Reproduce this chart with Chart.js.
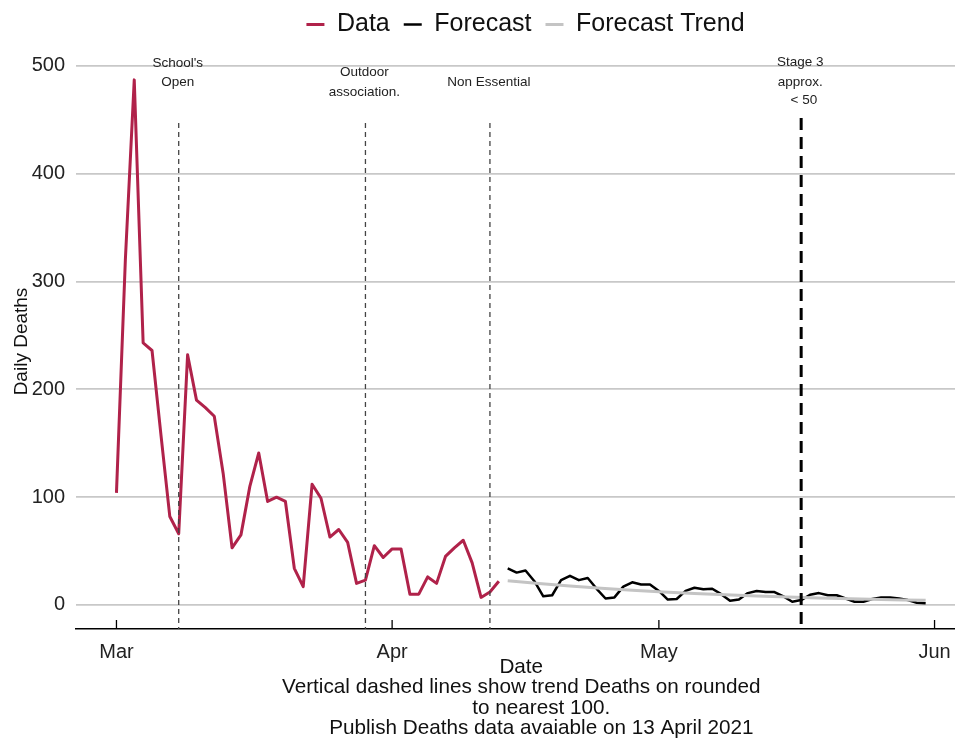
<!DOCTYPE html>
<html>
<head>
<meta charset="utf-8">
<script src="https://cdn.jsdelivr.net/npm/chart.js@4.4.1/dist/chart.umd.min.js"></script>
<style>
  html, body { margin: 0; padding: 0; background: #ffffff; }
  #wrap { width: 955px; height: 740px; }
</style>
</head>
<body>
<div id="wrap"><canvas id="c" width="955" height="740"></canvas></div>
<script>
// ---------------- data ----------------
const originDate = '2021-03-01';
const dataStartDate = '2021-03-01';
const dataValues = [104, 320, 487, 243, 236, 158, 82, 66, 232, 190, 183, 175, 122, 53, 65, 110,
  141, 96, 100, 96, 34, 17, 112, 99, 63, 70, 58, 20, 23, 55, 44,
  52, 52, 10, 10, 26, 20, 45, 53, 60, 39, 7, 12, 22];
const forecastStartDate = '2021-04-14';
const forecastValues = [34, 30, 32, 22, 8, 9, 23, 27, 23, 25, 15, 6, 7, 17, 21, 19, 19,
  13, 5, 5.5, 13, 16, 14.5, 15, 10, 4, 5, 11, 13, 12, 12, 8, 3, 4.5, 9.5, 11, 9, 9, 6, 3, 3,
  5.5, 7, 7, 6, 4.5, 2, 1.5];
const trendDates = ['2021-04-14', '2021-04-21', '2021-04-28', '2021-05-05', '2021-05-12', '2021-05-19', '2021-05-26', '2021-05-31'];
const trendValues = [22.5, 17.5, 13.7, 10.7, 8.4, 6.5, 5.1, 4.3];
const monthTickDates = ['2021-03-01', '2021-04-01', '2021-05-01', '2021-06-01'];
const monthTickLabels = ['Mar', 'Apr', 'May', 'Jun'];
const yTickValues = [0, 100, 200, 300, 400, 500];
const eventDates = ['2021-03-08', '2021-03-29', '2021-04-12', '2021-05-17'];
const eventLabels = [["School's", 'Open'], ['Outdoor', 'association.'], ['Non Essential'], ['Stage 3', 'approx.', '  < 50']];
const seriesNames = ['Data', 'Forecast', 'Forecast Trend'];
const xTitleLines = ['  Date', '  Vertical dashed lines show trend Deaths on rounded', '         to nearest 100.', '         Publish Deaths data avaiable on 13 April 2021'];
const yTitle = 'Daily Deaths';

// ---------------- helpers ----------------
const DAY = 86400000;
function dayOf(s) { return Math.round((Date.parse(s + 'T00:00:00Z') - Date.parse(originDate + 'T00:00:00Z')) / DAY); }
const dataStart = dayOf(dataStartDate);
const fcStart = dayOf(forecastStartDate);
const dataPts = dataValues.map((v, i) => ({ x: dataStart + i, y: v }));
const fcPts = forecastValues.map((v, i) => ({ x: fcStart + i, y: v }));
const trendPts = trendDates.map((d, i) => ({ x: dayOf(d), y: trendValues[i] }));
const monthTickDays = monthTickDates.map(dayOf);
const eventDays = eventDates.map(dayOf);

// ---------------- styles ----------------
const FONT = "'Liberation Sans', Arial, sans-serif";
const eventTextY = [[63, 82], [72, 92], [82], [62, 82, 100]];
const eventLineTop = [123, 123, 123, 118];
const eventStyle = [
  { color: '#444', width: 1.3, dash: [5, 4] },
  { color: '#444', width: 1.3, dash: [5, 4] },
  { color: '#444', width: 1.3, dash: [5, 4] },
  { color: '#000', width: 3, dash: [12, 7] }
];

const decorPlugin = {
  id: 'decor',
  beforeLayout(chart) {
    const lg = chart.legend;
    if (lg && !lg._patched) {
      const f = lg.fit.bind(lg);
      lg.fit = function () { f(); this.height = 54; };
      lg._patched = true;
    }
  },
  afterLayout(chart) {
    const lg = chart.legend;
    if (lg) { lg.left += 48; lg.right += 48; lg.top -= 2; lg.bottom -= 2; }
  },
  afterDatasetsDraw(chart) {
    const { ctx, chartArea, scales } = chart;
    ctx.save();
    eventDays.forEach((d, i) => {
      const x = scales.x.getPixelForValue(d);
      const st = eventStyle[i];
      ctx.beginPath();
      ctx.setLineDash(st.dash);
      ctx.lineWidth = st.width;
      ctx.strokeStyle = st.color;
      ctx.moveTo(x, eventLineTop[i]);
      ctx.lineTo(x, chartArea.bottom);
      ctx.stroke();
    });
    ctx.restore();
  },
  afterDraw(chart) {
    const { ctx, chartArea, scales } = chart;
    ctx.save();
    // inward month ticks
    ctx.setLineDash([]);
    ctx.strokeStyle = '#000';
    ctx.lineWidth = 1.3;
    monthTickDays.forEach(d => {
      const x = scales.x.getPixelForValue(d);
      ctx.beginPath();
      ctx.moveTo(x, chartArea.bottom - 9);
      ctx.lineTo(x, chartArea.bottom);
      ctx.stroke();
    });
    // event annotations
    ctx.fillStyle = '#222';
    ctx.font = "13.5px " + FONT;
    ctx.textAlign = 'center';
    ctx.textBaseline = 'middle';
    eventDays.forEach((d, i) => {
      const x = scales.x.getPixelForValue(d);
      eventLabels[i].forEach((t, j) => ctx.fillText(t, x - 1, eventTextY[i][j]));
    });
    ctx.restore();
  }
};

const ctx = document.getElementById('c').getContext('2d');
new Chart(ctx, {
  type: 'line',
  data: {
    datasets: [
      { label: seriesNames[0], data: dataPts, borderColor: '#b0224a', backgroundColor: '#b0224a', borderWidth: 3, pointRadius: 0, tension: 0, borderJoinStyle: 'round', order: 1 },
      { label: seriesNames[1], data: fcPts, borderColor: '#000000', backgroundColor: '#000000', borderWidth: 2.5, pointRadius: 0, tension: 0, borderJoinStyle: 'round', order: 2 },
      { label: seriesNames[2], data: trendPts, borderColor: '#c4c4c4', backgroundColor: '#c4c4c4', borderWidth: 3, pointRadius: 0, tension: 0.3, order: 0 }
    ]
  },
  options: {
    responsive: false,
    animation: false,
    devicePixelRatio: 1,
    layout: { padding: { top: 0, right: 0, bottom: 0, left: 0 } },
    plugins: {
      legend: {
        position: 'top',
        align: 'center',
        labels: {
          usePointStyle: true,
          pointStyle: 'line',
          pointStyleWidth: 18,
          padding: 14,
          color: '#111',
          font: { family: FONT, size: 25 },
          sort: (a, b) => a.datasetIndex - b.datasetIndex
        }
      },
      tooltip: { enabled: false }
    },
    scales: {
      x: {
        type: 'linear',
        min: -4.55,
        max: 94.3,
        afterBuildTicks: ax => { ax.ticks = monthTickDays.map(v => ({ value: v })); },
        afterFit: ax => { ax.height = 111; ax.paddingLeft = 0; ax.paddingRight = 0; },
        grid: { display: false },
        border: { display: true, color: '#000', width: 1.5 },
        ticks: {
          autoSkip: false, maxRotation: 0, padding: 3,
          color: '#222', font: { family: FONT, size: 20 },
          callback: v => { const k = monthTickDays.indexOf(v); return k >= 0 ? monthTickLabels[k] : ''; }
        },
        title: {
          display: true, text: xTitleLines, color: '#111',
          font: { family: FONT, size: 20.7, lineHeight: '20.3px' },
          padding: { top: 0, bottom: 1.5 }
        }
      },
      y: {
        type: 'linear',
        min: -22.3,
        max: 511,
        afterBuildTicks: ax => { ax.ticks = yTickValues.map(v => ({ value: v })); },
        afterFit: ax => { ax.width = 76; ax.paddingTop = 0; ax.paddingBottom = 0; },
        grid: { color: '#c8c8c8', lineWidth: 1.8, drawTicks: false },
        border: { display: false },
        ticks: { padding: 11, color: '#222', font: { family: FONT, size: 20 } },
        title: {
          display: true, text: yTitle, color: '#111',
          font: { family: FONT, size: 19 },
          padding: { top: 10.6, bottom: 0 }
        }
      }
    }
  },
  plugins: [decorPlugin]
});
</script>
</body>
</html>
